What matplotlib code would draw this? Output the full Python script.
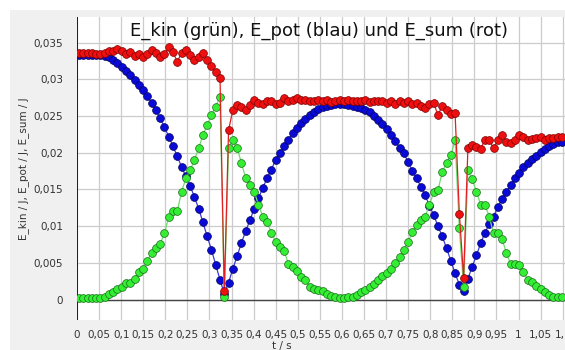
import numpy as np
import matplotlib
matplotlib.use('Agg')
import matplotlib.pyplot as plt
from matplotlib.patches import Rectangle
from matplotlib.ticker import MultipleLocator, FuncFormatter

# sampling of the measurement (s)
T0 = 0.0045
DT = 0.00968

e_pot = [0.0333, 0.0333, 0.0333, 0.0333, 0.0333, 0.0333, 0.0332, 0.0331, 0.0327, 0.0322,
         0.0317, 0.0312, 0.0306, 0.0299, 0.0292, 0.0285, 0.0277, 0.0268, 0.0258, 0.0247,
         0.0235, 0.0222, 0.0209, 0.0195, 0.0181, 0.0168, 0.0155, 0.0140, 0.0124, 0.0105,
         0.0086, 0.0068, 0.0047, 0.0027, 0.0008, 0.0023, 0.0042, 0.0059, 0.0077, 0.0093,
         0.0108, 0.0124, 0.0138, 0.0152, 0.0165, 0.0177, 0.0190, 0.0199, 0.0209, 0.0218,
         0.0227, 0.0234, 0.0240, 0.0246, 0.0251, 0.0255, 0.0259, 0.0262, 0.0264, 0.0265,
         0.0266, 0.0266, 0.0266, 0.0265, 0.0264, 0.0263, 0.0261, 0.0258, 0.0255, 0.0250,
         0.0245, 0.0239, 0.0232, 0.0224, 0.0216, 0.0207, 0.0199, 0.0188, 0.0175, 0.0165,
         0.0154, 0.0142, 0.0128, 0.0115, 0.0100, 0.0086, 0.0070, 0.0053, 0.0036, 0.0020,
         0.0012, 0.0028, 0.0045, 0.0060, 0.0077, 0.0091, 0.0103, 0.0113, 0.0126, 0.0137,
         0.0147, 0.0156, 0.0165, 0.0173, 0.0180, 0.0186, 0.0191, 0.0196, 0.0201, 0.0205,
         0.0209, 0.0212, 0.0214, 0.0215]

e_kin = [0.0002, 0.0002, 0.0002, 0.0002, 0.0002, 0.0002, 0.0004, 0.0007, 0.0010, 0.0014,
         0.0017, 0.0023, 0.0023, 0.0028, 0.0038, 0.0042, 0.0052, 0.0064, 0.0070, 0.0076,
         0.0090, 0.0113, 0.0120, 0.0120, 0.0147, 0.0165, 0.0176, 0.0190, 0.0206, 0.0224,
         0.0238, 0.0251, 0.0263, 0.0276, 0.0003, 0.0206, 0.0217, 0.0207, 0.0186, 0.0166,
         0.0156, 0.0147, 0.0129, 0.0113, 0.0106, 0.0091, 0.0079, 0.0072, 0.0066, 0.0049,
         0.0044, 0.0039, 0.0031, 0.0027, 0.0017, 0.0015, 0.0013, 0.0011, 0.0008, 0.0005,
         0.0003, 0.0002, 0.0002, 0.0003, 0.0004, 0.0006, 0.0010, 0.0013, 0.0017, 0.0021,
         0.0026, 0.0032, 0.0036, 0.0041, 0.0050, 0.0058, 0.0068, 0.0078, 0.0092, 0.0102,
         0.0108, 0.0113, 0.0129, 0.0146, 0.0149, 0.0174, 0.0186, 0.0197, 0.0217, 0.0097,
         0.0017, 0.0176, 0.0164, 0.0147, 0.0129, 0.0129, 0.0113, 0.0090, 0.0090, 0.0083,
         0.0063, 0.0049, 0.0049, 0.0047, 0.0038, 0.0027, 0.0024, 0.0018, 0.0015, 0.0010,
         0.0006, 0.0004, 0.0004, 0.0004]

e_sum = [0.0336, 0.0336, 0.0336, 0.0336, 0.0335, 0.0335, 0.0336, 0.0338, 0.0339, 0.0341,
         0.0339, 0.0334, 0.0337, 0.0332, 0.0335, 0.0331, 0.0334, 0.0340, 0.0336, 0.0330,
         0.0334, 0.0344, 0.0337, 0.0324, 0.0336, 0.0340, 0.0333, 0.0327, 0.0331, 0.0336,
         0.0326, 0.0318, 0.0310, 0.0302, 0.0011, 0.0231, 0.0258, 0.0265, 0.0262, 0.0258,
         0.0265, 0.0272, 0.0268, 0.0266, 0.0271, 0.0270, 0.0266, 0.0268, 0.0274, 0.0270,
         0.0272, 0.0274, 0.0272, 0.0272, 0.0270, 0.0270, 0.0272, 0.0271, 0.0272, 0.0269,
         0.0271, 0.0272, 0.0270, 0.0272, 0.0271, 0.0271, 0.0270, 0.0272, 0.0269, 0.0271,
         0.0271, 0.0270, 0.0268, 0.0270, 0.0266, 0.0270, 0.0268, 0.0271, 0.0267, 0.0268,
         0.0264, 0.0261, 0.0266, 0.0268, 0.0251, 0.0264, 0.0258, 0.0253, 0.0254, 0.0117,
         0.0030, 0.0206, 0.0211, 0.0208, 0.0205, 0.0218, 0.0217, 0.0206, 0.0217, 0.0224,
         0.0214, 0.0213, 0.0217, 0.0224, 0.0221, 0.0217, 0.0219, 0.0220, 0.0222, 0.0218,
         0.0220, 0.0220, 0.0221, 0.0221]

title = 'E_kin (grün), E_pot (blau) und E_sum (rot)'
y_label = 'E_kin / J, E_pot / J, E_sum / J'
x_label = 't / s'

t = T0 + DT * np.arange(len(e_pot))

W, H = 565, 350
fig = plt.figure(figsize=(W / 100, H / 100), dpi=100)
fig.patch.set_facecolor('white')
# grey panel behind the plot (white margin on top and left)
fig.patches.append(Rectangle((10 / W, 0), 1, 1 - 10 / H, transform=fig.transFigure,
                             facecolor='#f0f0f0', edgecolor='none', zorder=-10))

ax = fig.add_axes([77 / W, 30 / H, (W - 77) / W, 303 / H])
ax.set_zorder(1)
ax.set_facecolor('white')
ax.set_xlim(0, (W - 77) / 441.5)
ax.set_ylim(-0.00279, 0.0385)

for s in ax.spines.values():
    s.set_visible(False)

ax.xaxis.set_major_locator(MultipleLocator(0.05))
ax.yaxis.set_major_locator(MultipleLocator(0.005))


def de_fmt(v, pos):
    s = ('%.3f' % v).rstrip('0').rstrip('.')
    if s in ('-0', ''):
        s = '0'
    return s.replace('.', ',')


ax.xaxis.set_major_formatter(FuncFormatter(de_fmt))
ax.yaxis.set_major_formatter(FuncFormatter(de_fmt))
ax.tick_params(length=0, labelsize=7.5, labelcolor='#333333')
ax.tick_params(axis='x', pad=7)
ax.tick_params(axis='y', pad=10)
ax.grid(True, color='#cccccc', linewidth=0.9)
ax.set_axisbelow(True)
ax.axvline(0, color='black', linewidth=1.2, zorder=2)
ax.axhline(0, color='#444444', linewidth=1.0, zorder=2)

ax.plot(t, e_pot, '-o', color='#3a3ae0', linewidth=0.9, markersize=5.6,
        markerfacecolor='#0a0ad8', markeredgecolor='#00005a', markeredgewidth=0.5, zorder=3)
ax.plot(t, e_kin, '-o', color='#6ae06a', linewidth=0.9, markersize=5.6,
        markerfacecolor='#33ee33', markeredgecolor='#1a6a1a', markeredgewidth=0.5, zorder=4)
ax.plot(t, e_sum, '-o', color='#e02020', linewidth=0.9, markersize=5.6,
        markerfacecolor='#ee1010', markeredgecolor='#7a0000', markeredgewidth=0.5, zorder=5)

ax.text((319 - 77) / (W - 77), (320 - 31) / 303, title, transform=ax.transAxes,
        ha='center', va='center', fontsize=13, color='#111111', zorder=6)

ax.set_ylabel(y_label, fontsize=7.5, color='#333333')
ax.yaxis.set_label_coords(-48 / (W - 77), 0.5)
ax.set_xlabel(x_label, fontsize=7.5, color='#333333')
ax.xaxis.set_label_coords((282 - 77) / (W - 77), -21 / 303)

fig.savefig('out.png', dpi=100, facecolor=fig.get_facecolor())
